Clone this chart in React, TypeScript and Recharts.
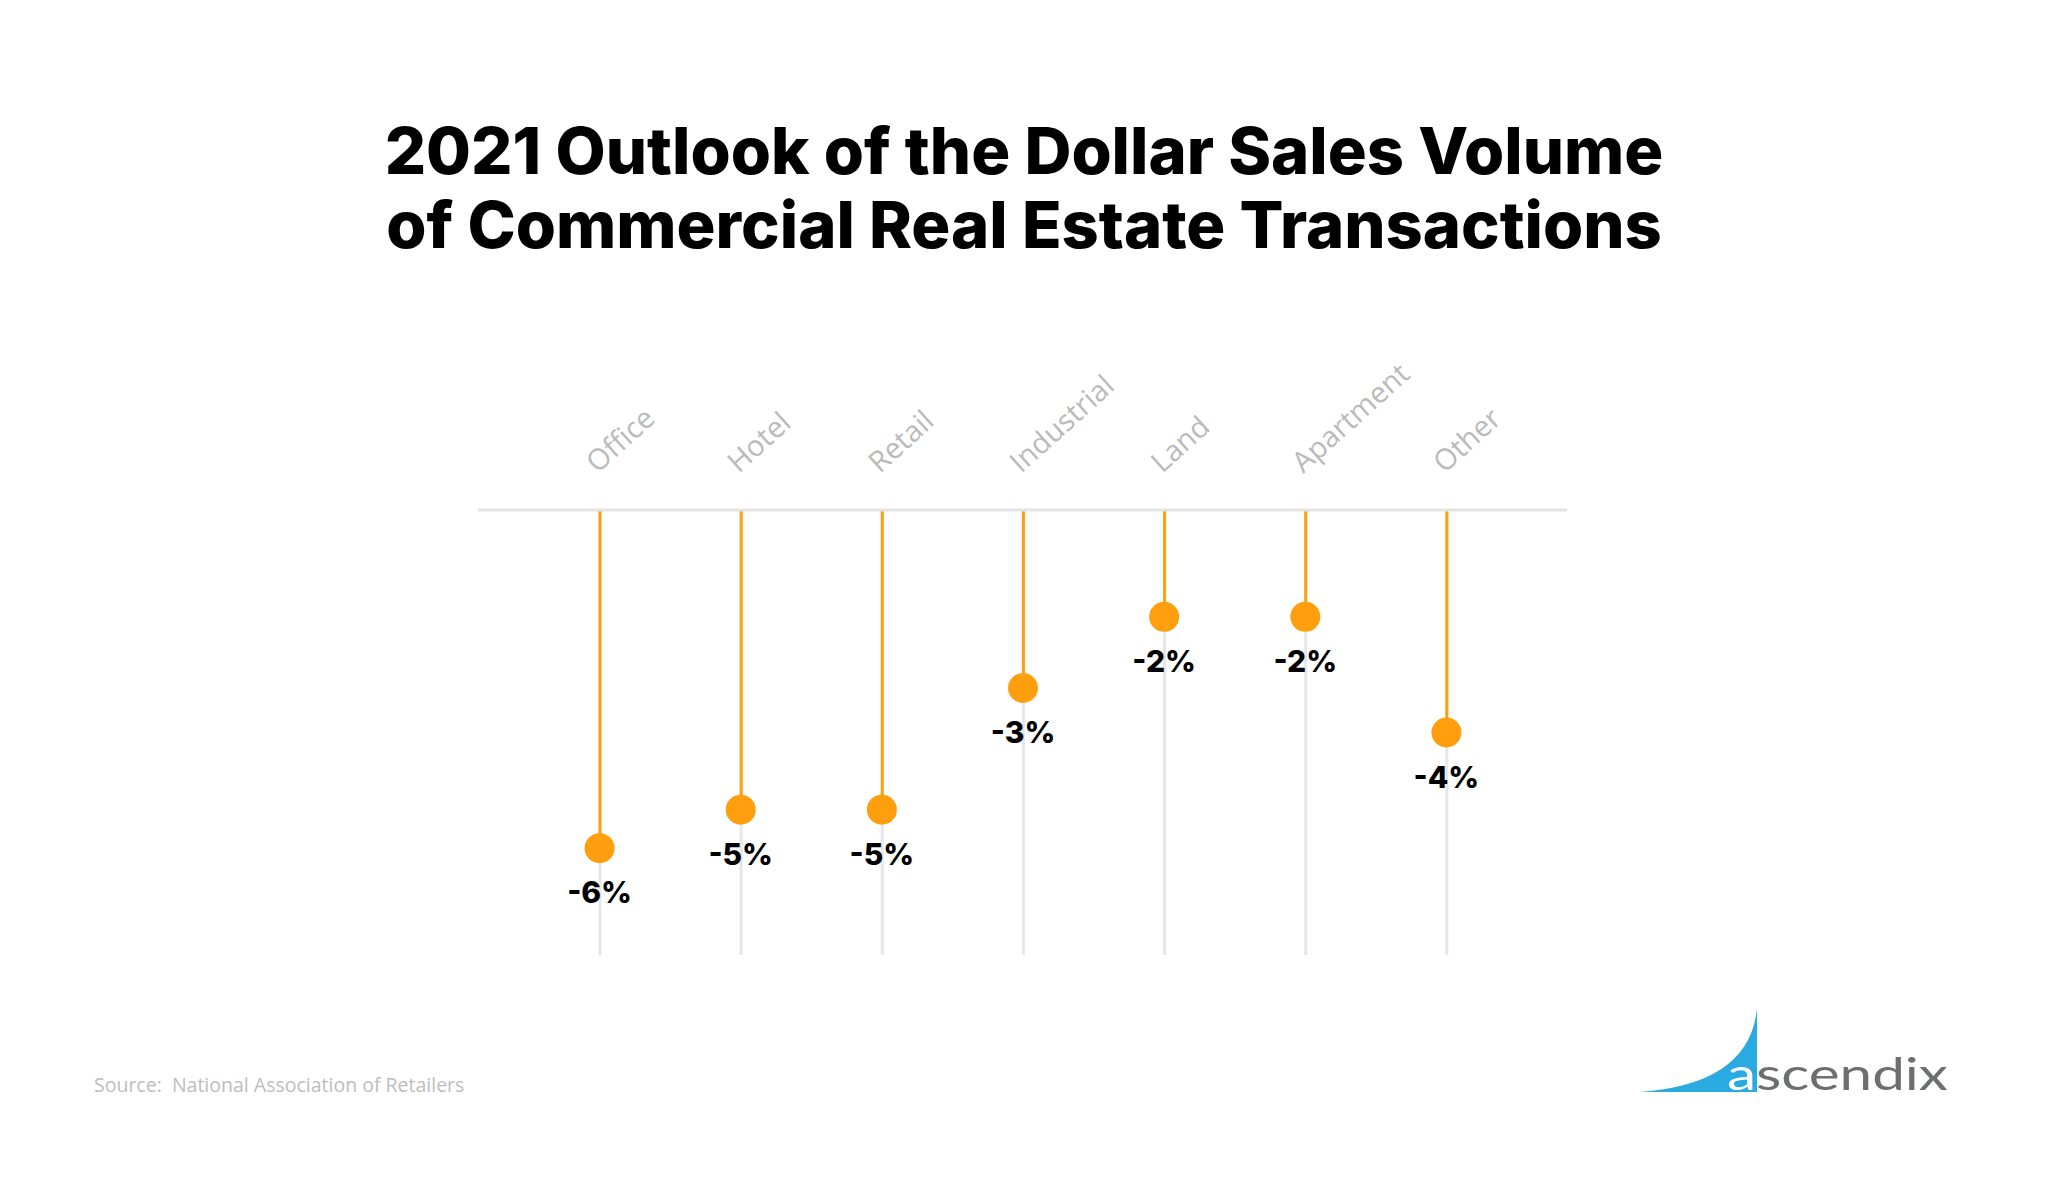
import React from "react";
import { ComposedChart, Bar, Line, XAxis, YAxis, LabelList } from "recharts";

// forecast change in dollar sales volume, %
const categories = ["Office", "Hotel", "Retail", "Industrial", "Land", "Apartment", "Other"];
const changeValues = [-5.7, -5.05, -5.05, -3.0, -1.8, -1.8, -3.75];
const yDomain: [number, number] = [-7.5, 0];

const titleLines = [
    "2021 Outlook of the Dollar Sales Volume",
    "of Commercial Real Estate Transactions",
];
const sourceText = "Source:  National Association of Retailers";

const ORANGE = "#ff9f0e";
const TRACK = "#e7e7e7";

const data = categories.map((name, i) => ({ name, value: changeValues[i] }));

const Stem = (props: any) => {
    const { x, y, width, height } = props;
    const top = Math.min(y, y + height);
    return <rect x={x + width / 2 - 1.5} y={top} width={3} height={Math.abs(height)} fill={ORANGE} />;
};

const Track = (props: any) => {
    const { x, y, width, height } = props;
    const top = Math.min(y, y + height);
    return <rect x={x + width / 2 - 1.5} y={top} width={3} height={Math.abs(height)} fill={TRACK} />;
};

const CategoryTick = (props: any) => {
    const { x, y, payload } = props;
    const tx = x - 2;
    const ty = y - 34;
    return (
        <text
            x={tx}
            y={ty}
            transform={`rotate(-42, ${tx}, ${ty})`}
            textAnchor="start"
            fontFamily="'Open Sans', sans-serif"
            fontWeight={400}
            fontSize={29}
            fill="#bababa"
        >
            {payload.value}
        </text>
    );
};

const ValueLabel = (props: any) => {
    const { x, y, value } = props;
    return (
        <text
            x={x}
            y={y + 55}
            textAnchor="middle"
            fontFamily="Inter, sans-serif"
            fontWeight={800}
            fontSize={30}
            fill="#000"
        >
            {`${Math.round(Number(value))}%`}
        </text>
    );
};

export default function App() {
    return (
        <div style={{ position: "fixed", left: 0, top: 0, width: 2048, height: 1199, background: "#fff" }}>
            <svg width={2048} height={1199} style={{ position: "absolute", left: 0, top: 0 }}>
                {titleLines.map((line, i) => (
                    <text
                        key={line}
                        x={1024}
                        y={174 + i * 74}
                        textAnchor="middle"
                        fontFamily="Inter, sans-serif"
                        fontWeight={800}
                        fontSize={65}
                        fill="#000"
                    >
                        {line}
                    </text>
                ))}
                <text
                    x={94}
                    y={1092}
                    fontFamily="'Open Sans', sans-serif"
                    fontSize={19.5}
                    fill="#bdbdbd"
                    style={{ whiteSpace: "pre" }}
                >
                    {sourceText}
                </text>
                <path d="M1640,1092 Q1750,1084 1757,1008 L1757,1092 Z" fill="#29abe2" />
                <text
                    x={1727}
                    y={1090}
                    fontFamily="Lato, sans-serif"
                    fontSize={44}
                    fill="#6d6e71"
                    textLength={221}
                    lengthAdjust="spacingAndGlyphs"
                >
                    <tspan fill="#fff">a</tspan>scendix
                </text>
            </svg>
            <div style={{ position: "absolute", left: 0, top: 0 }}>
                <ComposedChart
                    width={2048}
                    height={1000}
                    data={data}
                    margin={{ top: 450, right: 481, left: 478, bottom: 45 }}
                >
                    <XAxis
                        dataKey="name"
                        orientation="top"
                        height={60}
                        interval={0}
                        padding={{ left: 51, right: 50 }}
                        axisLine={{ stroke: "#e4e4e4", strokeWidth: 3 }}
                        tickLine={false}
                        tickSize={0}
                        tick={<CategoryTick />}
                    />
                    <YAxis hide domain={yDomain} allowDataOverflow />
                    <Bar
                        dataKey="value"
                        barSize={20}
                        background={<Track />}
                        shape={<Stem />}
                        isAnimationActive={false}
                    />
                    <Line
                        dataKey="value"
                        stroke="none"
                        dot={{ r: 15, fill: ORANGE, stroke: "none" }}
                        activeDot={false}
                        isAnimationActive={false}
                    >
                        <LabelList dataKey="value" content={<ValueLabel />} />
                    </Line>
                </ComposedChart>
            </div>
        </div>
    );
}
